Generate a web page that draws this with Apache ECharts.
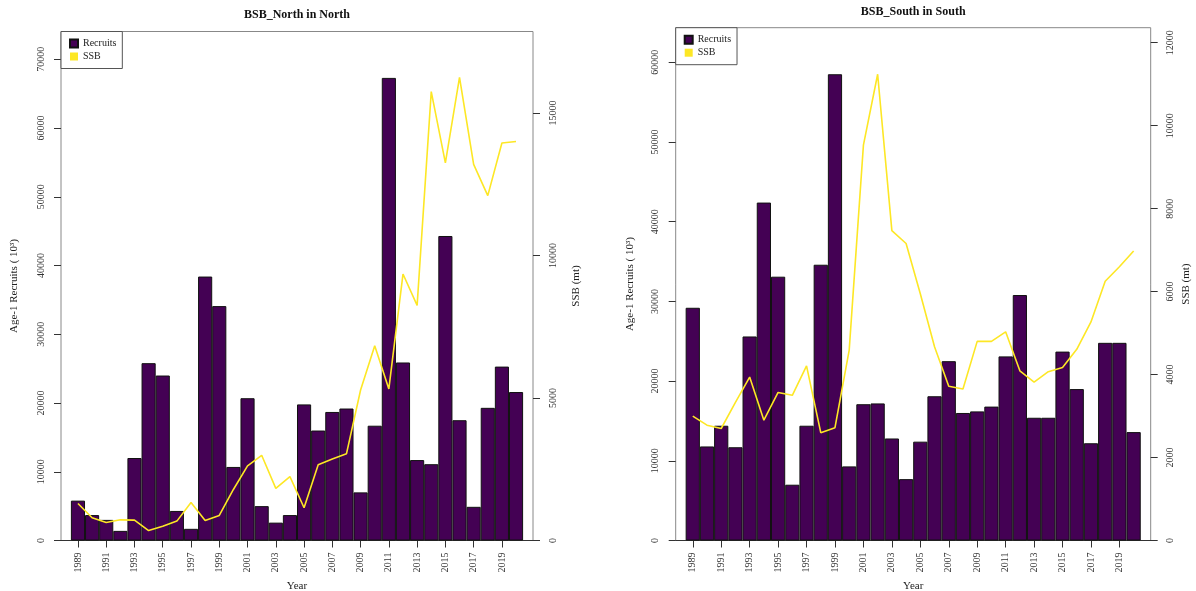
<!DOCTYPE html>
<html><head><meta charset="utf-8">
<script src="https://cdn.jsdelivr.net/npm/echarts@6/dist/echarts.min.js"></script>
<style>html,body{margin:0;padding:0;background:#fff}#c{width:1196px;height:591px}</style>
</head><body><div id="c"></div>
<script>
// ---- data ----
const years = [1989,1990,1991,1992,1993,1994,1995,1996,1997,1998,1999,2000,2001,2002,2003,2004,2005,2006,2007,2008,2009,2010,2011,2012,2013,2014,2015,2016,2017,2018,2019,2020];
const northRecruits = [5800,3700,3000,1400,12000,25800,24000,4300,1700,38400,34100,10700,20700,5000,2600,3700,19800,16000,18700,19200,7000,16700,67300,25900,11700,11100,44300,17500,4900,19300,25300,21600];
const northSSB = [1300,800,630,725,715,350,500,680,1335,700,880,1790,2620,2990,1830,2240,1150,2660,2860,3040,5280,6830,5320,9350,8250,15750,13250,16250,13200,12100,13950,14000];
const southRecruits = [29200,11800,14400,11700,25600,42400,33100,7000,14400,34600,58500,9300,17100,17200,12800,7700,12400,18100,22500,16000,16200,16800,23100,30800,15400,15400,23700,19000,12200,24800,24800,13600];
const southSSB = [3000,2780,2700,3330,3940,2900,3570,3500,4210,2600,2720,4590,9530,11240,7470,7160,5950,4670,3720,3650,4800,4800,5030,4090,3820,4070,4170,4610,5270,6250,6600,6980];
const xTickLabels = [1989,1991,1993,1995,1997,1999,2001,2003,2005,2007,2009,2011,2013,2015,2017,2019];
const northRecTicks = [0,10000,20000,30000,40000,50000,60000,70000];
const northSSBTicks = [0,5000,10000,15000];
const southRecTicks = [0,10000,20000,30000,40000,50000,60000];
const southSSBTicks = [0,2000,4000,6000,8000,10000,12000];
const titles = ['BSB_North in North', 'BSB_South in South'];

// ---- layout ----
const FONT = 'Liberation Serif';
const panels = [
  {grid:{left:61, top:31.5, width:472, height:509}, titleY:15.3, yMax:74050, y2Max:17860, rec:northRecruits, ssb:northSSB, recTicks:northRecTicks, ssbTicks:northSSBTicks, gapL:41, gapR:38},
  {grid:{left:675.7, top:27.7, width:475, height:512.8}, titleY:11.7, yMax:64340, y2Max:12362, rec:southRecruits, ssb:southSSB, recTicks:southRecTicks, ssbTicks:southSSBTicks, gapL:40, gapR:30}
];
const fmt = v => String(v);
const grid = [], xAxis = [], yAxis = [], series = [], legend = [], graphic = [];
panels.forEach((p, i) => {
  grid.push(Object.assign({show:true, borderColor:'#888', borderWidth:1, outerBoundsMode:'none', containLabel:false}, p.grid));
  xAxis.push({type:'value', gridIndex:i, min:1987.8, max:2021.2,
    axisLine:{show:true, onZero:false, lineStyle:{color:'#333', width:1}},
    axisTick:{show:true, customValues:xTickLabels, length:7, lineStyle:{color:'#333'}},
    axisLabel:{customValues:xTickLabels, rotate:90, margin:12, fontSize:10, color:'#333', fontFamily:FONT, formatter:fmt},
    splitLine:{show:false},
    name:'Year', nameLocation:'middle', nameGap:38, nameTextStyle:{fontSize:11, color:'#222', fontFamily:FONT}});
  yAxis.push({type:'value', gridIndex:i, position:'left', min:0, max:p.yMax,
    axisLine:{show:false},
    axisTick:{show:true, customValues:p.recTicks, length:7, lineStyle:{color:'#333'}},
    axisLabel:{customValues:p.recTicks, rotate:90, margin:15, fontSize:10, color:'#333', fontFamily:FONT, formatter:fmt},
    splitLine:{show:false},
    name:'Age-1 Recruits ( 10³)', nameLocation:'middle', nameRotate:90, nameGap:p.gapL, nameTextStyle:{fontSize:11, color:'#222', fontFamily:FONT}});
  yAxis.push({type:'value', gridIndex:i, position:'right', min:0, max:p.y2Max,
    axisLine:{show:false},
    axisTick:{show:true, customValues:p.ssbTicks, length:7, lineStyle:{color:'#333'}},
    axisLabel:{customValues:p.ssbTicks, rotate:90, margin:15, fontSize:10, color:'#333', fontFamily:FONT, formatter:fmt},
    splitLine:{show:false},
    name:'SSB (mt)', nameLocation:'middle', nameRotate:90, nameGap:p.gapR, nameTextStyle:{fontSize:11, color:'#222', fontFamily:FONT}});
  series.push({type:'bar', name:'Recruits', xAxisIndex:i, yAxisIndex:2*i, barWidth:'100%',
    data:years.map((y, k) => [y, p.rec[k]]),
    itemStyle:{color:'#440154', borderColor:'#111', borderWidth:1}, silent:true});
  series.push({type:'line', name:'SSB', xAxisIndex:i, yAxisIndex:2*i+1, symbol:'none', z:5,
    data:years.map((y, k) => [y, p.ssb[k]]),
    lineStyle:{color:'#FDE725', width:1.6}, itemStyle:{color:'#FDE725'}, silent:true});
  legend.push({orient:'vertical', left:p.grid.left, top:p.grid.top, padding:[7,6,7,8],
    itemWidth:8, itemHeight:8, itemGap:3, icon:'rect', selectedMode:false,
    borderColor:'#555', borderWidth:1, backgroundColor:'#fff',
    textStyle:{fontSize:10, color:'#222', fontFamily:FONT},
    data:['Recruits','SSB']});
  graphic.push({type:'text', x:p.grid.left + p.grid.width/2, y:p.titleY,
    style:{text:titles[i], align:'center', verticalAlign:'middle', fontSize:12, fontWeight:'bold', fontFamily:FONT, fill:'#111'}});
});

const chart = echarts.init(document.getElementById('c'));
chart.setOption({animation:false, backgroundColor:'#fff', textStyle:{fontFamily:FONT},
  grid, xAxis, yAxis, series, legend, graphic});
</script></body></html>
